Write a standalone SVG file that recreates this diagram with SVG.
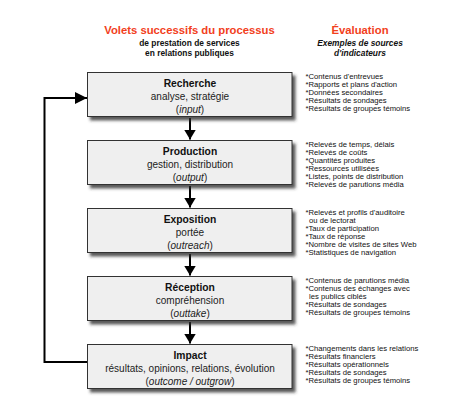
<svg xmlns="http://www.w3.org/2000/svg" width="454" height="407" viewBox="0 0 454 407">
<style>
.h{font-family:"Liberation Sans",Arial,sans-serif;font-weight:bold;font-size:11.3px;fill:#f2401c;text-anchor:middle}
.s{font-family:"Liberation Sans",Arial,sans-serif;font-weight:bold;font-size:8.4px;fill:#111;text-anchor:middle}
.si{font-style:italic}
.box{fill:#efefef;stroke:#333;stroke-width:1}
.t{font-family:"Liberation Sans",Arial,sans-serif;font-weight:bold;font-size:10.3px;fill:#111;text-anchor:middle}
.b{font-family:"Liberation Sans",Arial,sans-serif;font-size:10px;fill:#222;text-anchor:middle}
.l{font-family:"Liberation Sans",Arial,sans-serif;font-size:7.7px;fill:#111}
.c{fill:none;stroke:#000;stroke-width:2}
</style>
<defs>
<filter id="sh" x="-10%" y="-20%" width="130%" height="150%">
<feDropShadow dx="3" dy="3.5" stdDeviation="1.4" flood-color="#333" flood-opacity="0.8"/>
</filter>
<marker id="ah" markerUnits="userSpaceOnUse" viewBox="0 0 12 12" markerWidth="12" markerHeight="12" refX="12" refY="6" orient="auto">
<path d="M0,0 L12,6 L0,12 Z" fill="#000"/>
</marker>
<marker id="ad" markerUnits="userSpaceOnUse" viewBox="0 0 10 12" markerWidth="10" markerHeight="12" refX="10" refY="6" orient="auto">
<path d="M0,0 L10,6 L0,12 Z" fill="#000"/>
</marker>
</defs>
<rect width="454" height="407" fill="#fff"/>

<g id="header">
<text class="h" x="189.5" y="34">Volets successifs du processus</text>
<text class="s" x="189.5" y="45.5">de prestation de services</text>
<text class="s" x="189.5" y="55.5">en relations publiques</text>
<text class="h" x="360" y="34">Évaluation</text>
<text class="s si" x="360" y="45.5">Exemples de sources</text>
<text class="s si" x="360" y="55.5">d'indicateurs</text>
</g>

<g id="connectors">
<path class="c" d="M190,118 V139.5" marker-end="url(#ad)"/>
<path class="c" d="M190,186 V207.5" marker-end="url(#ad)"/>
<path class="c" d="M190,254 V275.5" marker-end="url(#ad)"/>
<path class="c" d="M190,322 V343.5" marker-end="url(#ad)"/>
<path class="c" d="M87,362 H44.5 V98 H87" marker-end="url(#ah)"/>
</g>

<g id="recherche">
<rect class="box" x="87.5" y="72.5" width="204.5" height="44" filter="url(#sh)"/>
<text class="t" x="190" y="86.5">Recherche</text>
<text class="b" x="190" y="99.5">analyse, stratégie</text>
<text class="b" x="190" y="112.5">(<tspan font-style="italic">input</tspan>)</text>
<text class="l" x="305.5"><tspan x="305.5" y="79">*Contenus d'entrevues</tspan><tspan x="305.5" y="86.9">*Rapports et plans d'action</tspan><tspan x="305.5" y="94.8">*Données secondaires</tspan><tspan x="305.5" y="102.7">*Résultats de sondages</tspan><tspan x="305.5" y="110.6">*Résultats de groupes témoins</tspan></text>
</g>

<g id="production">
<rect class="box" x="87.5" y="140.5" width="204.5" height="44" filter="url(#sh)"/>
<text class="t" x="190" y="154.5">Production</text>
<text class="b" x="190" y="167.5">gestion, distribution</text>
<text class="b" x="190" y="180.5">(<tspan font-style="italic">output</tspan>)</text>
<text class="l" x="305.5"><tspan x="305.5" y="147">*Relevés de temps, délais</tspan><tspan x="305.5" y="154.9">*Relevés de coûts</tspan><tspan x="305.5" y="162.8">*Quantités produites</tspan><tspan x="305.5" y="170.7">*Ressources utilisées</tspan><tspan x="305.5" y="178.6">*Listes, points de distribution</tspan><tspan x="305.5" y="186.5">*Relevés de parutions média</tspan></text>
</g>

<g id="exposition">
<rect class="box" x="87.5" y="208.5" width="204.5" height="44" filter="url(#sh)"/>
<text class="t" x="190" y="222.5">Exposition</text>
<text class="b" x="190" y="235.5">portée</text>
<text class="b" x="190" y="248.5">(<tspan font-style="italic">outreach</tspan>)</text>
<text class="l" x="305.5"><tspan x="305.5" y="215">*Relevés et profils d'auditoire</tspan><tspan x="309" y="222.9">ou de lectorat</tspan><tspan x="305.5" y="230.8">*Taux de participation</tspan><tspan x="305.5" y="238.7">*Taux de réponse</tspan><tspan x="305.5" y="246.6">*Nombre de visites de sites Web</tspan><tspan x="305.5" y="254.5">*Statistiques de navigation</tspan></text>
</g>

<g id="reception">
<rect class="box" x="87.5" y="276.5" width="204.5" height="44" filter="url(#sh)"/>
<text class="t" x="190" y="290.5">Réception</text>
<text class="b" x="190" y="303.5">compréhension</text>
<text class="b" x="190" y="316.5">(<tspan font-style="italic">outtake</tspan>)</text>
<text class="l" x="305.5"><tspan x="305.5" y="283">*Contenus de parutions média</tspan><tspan x="305.5" y="290.9">*Contenus des échanges avec</tspan><tspan x="309" y="298.8">les publics ciblés</tspan><tspan x="305.5" y="306.7">*Résultats de sondages</tspan><tspan x="305.5" y="314.6">*Résultats de groupes témoins</tspan></text>
</g>

<g id="impact">
<rect class="box" x="87.5" y="344.5" width="204.5" height="44" filter="url(#sh)"/>
<text class="t" x="190" y="358.5">Impact</text>
<text class="b" x="190" y="371.5">résultats, opinions, relations, évolution</text>
<text class="b" x="190" y="384.5">(<tspan font-style="italic">outcome / outgrow</tspan>)</text>
<text class="l" x="305.5"><tspan x="305.5" y="351">*Changements dans les relations</tspan><tspan x="305.5" y="358.9">*Résultats financiers</tspan><tspan x="305.5" y="366.8">*Résultats opérationnels</tspan><tspan x="305.5" y="374.7">*Résultats de sondages</tspan><tspan x="305.5" y="382.6">*Résultats de groupes témoins</tspan></text>
</g>
</svg>
